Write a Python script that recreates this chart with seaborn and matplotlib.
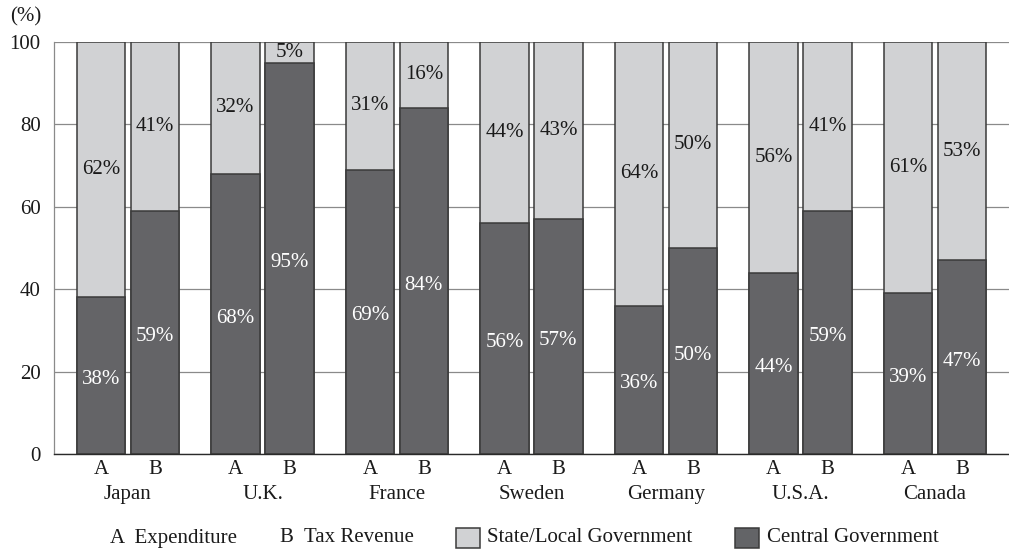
#Central vs State/Local government share of expenditure and tax revenue
import numpy as np
import pandas as pd
import matplotlib.pyplot as plt
from matplotlib.patches import Rectangle
import seaborn as sns

#data (%)
countries = ["Japan", "U.K.", "France", "Sweden", "Germany", "U.S.A.", "Canada"]
kinds = ["A", "B"]  # A = Expenditure, B = Tax Revenue
central_exp = [38, 68, 69, 56, 36, 44, 39]
central_tax = [59, 95, 84, 57, 50, 59, 47]
local_exp = [62, 32, 31, 44, 64, 56, 61]
local_tax = [41, 5, 16, 43, 50, 41, 53]

light = "#d1d2d4"
dark = "#636467"
edge = "#3a3a3a"

rows = []
for i, c in enumerate(countries):
    rows.append({"country": c, "kind": "A", "central": central_exp[i], "local": local_exp[i]})
    rows.append({"country": c, "kind": "B", "central": central_tax[i], "local": local_tax[i]})
df = pd.DataFrame(rows)
df["total"] = df["central"] + df["local"]

sns.set_style("white")
plt.rcParams['font.family'] = ['Liberation Serif', 'DejaVu Serif']
plt.rcParams['font.size'] = 15

fig, ax = plt.subplots(figsize=(10.09, 5.51), dpi=100)
fig.subplots_adjust(left=0.0535, right=1.0, top=0.9238, bottom=0.176)

#light bar = full height (state/local on top), dark bar = central part
sns.barplot(data=df, x="country", y="total", hue="kind", order=countries, hue_order=kinds,
            palette=[light, light], gap=0.1, edgecolor=edge, linewidth=1.1,
            legend=False, ax=ax, errorbar=None)
sns.barplot(data=df, x="country", y="central", hue="kind", order=countries, hue_order=kinds,
            palette=[dark, dark], gap=0.1, edgecolor=edge, linewidth=1.1,
            legend=False, ax=ax, errorbar=None)

#percentage labels in the middle of each segment
cent = {"A": central_exp, "B": central_tax}
loc = {"A": local_exp, "B": local_tax}
for k_i, k in enumerate(kinds):
    bars = ax.containers[k_i]
    for i, bar in enumerate(bars):
        xc = bar.get_x() + bar.get_width() / 2
        c = cent[k][i]
        l = loc[k][i]
        ax.text(xc, c / 2 - 1, f"{c}%", ha="center", va="center", color="white", fontsize=15)
        ax.text(xc, c + l / 2, f"{l}%", ha="center", va="center", color="#1a1a1a", fontsize=15)

ax.set_ylim(0, 100)
ax.set_xlim(-0.55, 6.55)
ax.set_yticks([0, 20, 40, 60, 80, 100])
ax.yaxis.grid(True, color="#8a8a8a", linewidth=0.9)
ax.set_axisbelow(True)
ax.set_xlabel("")
ax.set_ylabel("")

#A/B under each bar, country names below that
ax.set_xticks(range(len(countries)))
ax.set_xticklabels(countries)
minor_pos = []
minor_lab = []
for i in range(len(countries)):
    minor_pos += [i - 0.2, i + 0.2]
    minor_lab += kinds
ax.set_xticks(minor_pos, minor=True)
ax.set_xticklabels(minor_lab, minor=True)
ax.tick_params(axis="x", which="major", length=0, pad=22.5, labelsize=15, colors="#1a1a1a")
ax.tick_params(axis="x", which="minor", length=0, pad=4.5, labelsize=15, colors="#1a1a1a")
ax.tick_params(axis="y", length=0, pad=9.5, labelsize=15, colors="#1a1a1a")

for s in ["top", "right"]:
    ax.spines[s].set_visible(False)
ax.spines["left"].set_color("#8a8a8a")
ax.spines["left"].set_linewidth(0.9)
ax.spines["bottom"].set_color("#2a2a2a")
ax.spines["bottom"].set_linewidth(1.0)

fig.text(41 / 1009, 1 - 17 / 551, "(%)", ha="right", va="center", fontsize=15, color="#1a1a1a")

#legend row at the bottom
W, H = 1009, 551
ly = 1 - 538 / H
fig.text(110 / W, ly, "A  Expenditure", ha="left", va="center", fontsize=15, color="#1a1a1a")
fig.text(280 / W, ly, "B  Tax Revenue", ha="left", va="center", fontsize=15, color="#1a1a1a")
fig.patches.append(Rectangle((456 / W, 1 - 548 / H), 24 / W, 20 / H, transform=fig.transFigure,
                             facecolor=light, edgecolor=edge, linewidth=1.1))
fig.text(487 / W, ly, "State/Local Government", ha="left", va="center", fontsize=15, color="#1a1a1a")
fig.patches.append(Rectangle((735 / W, 1 - 548 / H), 24 / W, 20 / H, transform=fig.transFigure,
                             facecolor=dark, edgecolor=edge, linewidth=1.1))
fig.text(767 / W, ly, "Central Government", ha="left", va="center", fontsize=15, color="#1a1a1a")

plt.savefig("out.png", dpi=100)
plt.close()
